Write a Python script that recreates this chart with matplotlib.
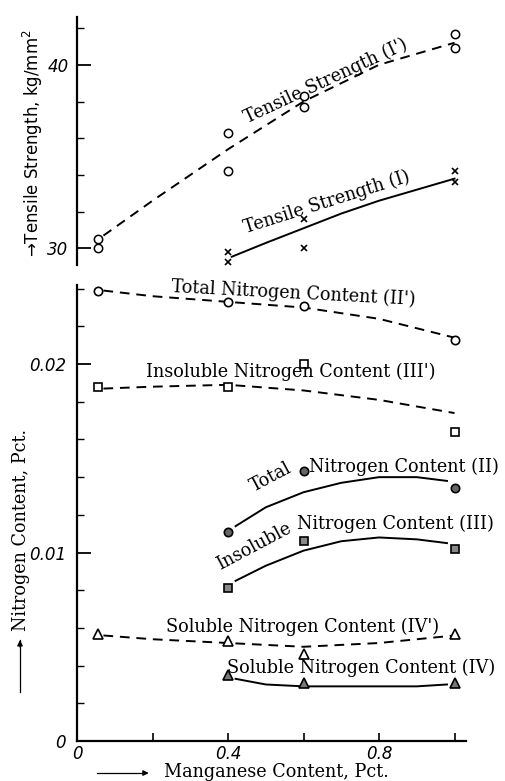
import numpy as np
import matplotlib
matplotlib.use("Agg")
import matplotlib.pyplot as plt
from matplotlib.ticker import MultipleLocator, FixedLocator, FixedFormatter

# measured points
ts_open_x = [0.055, 0.055, 0.4, 0.4, 0.6, 0.6, 1.0, 1.0]
ts_open_y = [30.0, 30.5, 34.2, 36.3, 37.7, 38.3, 40.9, 41.7]
ts_cross_x = [0.4, 0.4, 0.6, 0.6, 1.0, 1.0]
ts_cross_y = [29.25, 29.8, 30.05, 31.6, 33.6, 34.2]

# curves
ts1p_x = [0.07, 0.2, 0.4, 0.6, 0.8, 1.0]
ts1p_y = [30.7, 32.6, 35.4, 38.0, 40.0, 41.2]
ts1_x = [0.41, 0.5, 0.6, 0.7, 0.8, 0.9, 1.0]
ts1_y = [29.55, 30.3, 31.1, 31.9, 32.6, 33.2, 33.8]

n_x = [0.055, 0.4, 0.6, 1.0]
tot2p = [0.0239, 0.0233, 0.0231, 0.0213]
ins3p = [0.0188, 0.0188, 0.0200, 0.0164]
sol4p = [0.0057, 0.0053, 0.0046, 0.0057]
n2_x = [0.4, 0.6, 1.0]
tot2 = [0.0111, 0.0143, 0.01345]
ins3 = [0.0081, 0.0106, 0.0102]
sol4 = [0.0035, 0.0031, 0.0031]

c_x = [0.07, 0.2, 0.4, 0.6, 0.8, 1.0]
tot2p_c = [0.0239, 0.0236, 0.0233, 0.0230, 0.0224, 0.0214]
ins3p_c = [0.0187, 0.0188, 0.0189, 0.0186, 0.0181, 0.0174]
sol4p_c = [0.0056, 0.0054, 0.0052, 0.0050, 0.0052, 0.0056]
c2_x = [0.42, 0.5, 0.6, 0.7, 0.8, 0.9, 0.98]
tot2_c = [0.0114, 0.0124, 0.0132, 0.0137, 0.0140, 0.0140, 0.0138]
ins3_c = [0.0085, 0.0093, 0.0101, 0.0106, 0.0108, 0.0107, 0.0105]
sol4_c = [0.0033, 0.0030, 0.0029, 0.0029, 0.0029, 0.0029, 0.0030]

serif = "DejaVu Serif"
fs = 12.7
dash = (5, 3.5)

fig = plt.figure(figsize=(5.05, 7.81), dpi=100)
ax1 = fig.add_axes([0.1525, 0.6607, 0.770, 0.3175])
ax2 = fig.add_axes([0.1525, 0.0512, 0.770, 0.584])

for ax in (ax1, ax2):
    ax.set_xlim(0, 1.03)
    ax.spines['top'].set_visible(False)
    ax.spines['right'].set_visible(False)
    ax.spines['left'].set_linewidth(1.6)
    ax.spines['bottom'].set_linewidth(1.6)
    ax.patch.set_alpha(0)

# upper axes: tensile strength
ax1.set_ylim(29.1, 42.6)
ax1.spines['bottom'].set_visible(False)
ax1.set_xticks([])
ax1.yaxis.set_major_locator(FixedLocator([30, 40]))
ax1.yaxis.set_minor_locator(MultipleLocator(2))
ax1.tick_params(axis='y', which='major', direction='in', length=10, width=1.3, pad=6)
ax1.tick_params(axis='y', which='minor', direction='in', length=5, width=1.0)
for t in ax1.get_yticklabels():
    t.set_fontstyle('italic')
    t.set_fontsize(12)

ax1.plot(ts1p_x, ts1p_y, color='black', lw=1.4, dashes=dash)
ax1.plot(ts1_x, ts1_y, color='black', lw=1.4)
ax1.plot(ts_open_x, ts_open_y, 'o', ms=6, mfc='white', mec='black', mew=1.1, ls='none')
ax1.plot(ts_cross_x, ts_cross_y, 'x', ms=5, color='black', mew=1.2, ls='none')

ax1.text(0.658, 39.1, "Tensile Strength (I')", rotation=25, fontsize=fs,
         family=serif, ha='center', va='center', rotation_mode='anchor')
ax1.text(0.663, 32.5, "Tensile Strength (I)", rotation=17.5, fontsize=fs,
         family=serif, ha='center', va='center', rotation_mode='anchor')

# lower axes: nitrogen content
ax2.set_ylim(0, 0.0242)
ax2.xaxis.set_major_locator(FixedLocator([0, 0.2, 0.4, 0.6, 0.8, 1.0]))
ax2.xaxis.set_major_formatter(FixedFormatter(['0', '', '0.4', '', '0.8', '']))
ax2.yaxis.set_major_locator(FixedLocator([0, 0.01, 0.02]))
ax2.yaxis.set_major_formatter(FixedFormatter(['0', '0.01', '0.02']))
ax2.yaxis.set_minor_locator(MultipleLocator(0.002))
ax2.tick_params(axis='x', which='major', direction='in', length=6, width=1.2, pad=3)
ax2.tick_params(axis='y', which='major', direction='in', length=10, width=1.3, pad=8)
ax2.tick_params(axis='y', which='minor', direction='in', length=5, width=1.0)
for t in ax2.get_xticklabels() + ax2.get_yticklabels():
    t.set_fontstyle('italic')
    t.set_fontsize(12)

ax2.plot(c_x, tot2p_c, color='black', lw=1.4, dashes=dash)
ax2.plot(c_x, ins3p_c, color='black', lw=1.4, dashes=dash)
ax2.plot(c_x, sol4p_c, color='black', lw=1.4, dashes=dash)
ax2.plot(c2_x, tot2_c, color='black', lw=1.4)
ax2.plot(c2_x, ins3_c, color='black', lw=1.4)
ax2.plot(c2_x, sol4_c, color='black', lw=1.4)

ax2.plot(n_x, tot2p, 'o', ms=6, mfc='white', mec='black', mew=1.2, ls='none')
ax2.plot(n_x, ins3p, 's', ms=6, mfc='white', mec='black', mew=1.2, ls='none')
ax2.plot(n_x, sol4p, '^', ms=7, mfc='white', mec='black', mew=1.2, ls='none')
ax2.plot(n2_x, tot2, 'o', ms=6, mfc='#666666', mec='black', mew=1.2, ls='none')
ax2.plot(n2_x, ins3, 's', ms=6, mfc='#888888', mec='black', mew=1.2, ls='none')
ax2.plot(n2_x, sol4, '^', ms=7, mfc='#777777', mec='black', mew=1.2, ls='none')

kw = dict(fontsize=fs, family=serif, va='center')
ax2.text(0.573, 0.02378, "Total Nitrogen Content (II')", rotation=-3, ha='center', **kw)
ax2.text(0.565, 0.01957, "Insoluble Nitrogen Content (III')", ha='center', **kw)
ax2.text(0.515, 0.0140, "Total", rotation=28, ha='center', **kw)
ax2.text(0.614, 0.01457, "Nitrogen Content (II)", ha='left', **kw)
ax2.text(0.469, 0.01032, "Insoluble", rotation=28, ha='center', **kw)
ax2.text(0.584, 0.01154, "Nitrogen Content (III)", ha='left', **kw)
ax2.text(0.597, 0.00606, "Soluble Nitrogen Content (IV')", ha='center', **kw)
ax2.text(0.753, 0.00388, "Soluble Nitrogen Content (IV)", ha='center', **kw)

# axis titles
fig.text(0.065, 0.817, "\u2192Tensile Strength, kg/mm$^2$", rotation=90,
         ha='center', va='center', fontsize=12)
fig.text(0.042, 0.321, "Nitrogen Content, Pct.", rotation=90,
         ha='center', va='center', fontsize=fs, family=serif)
fig.text(0.547, 0.0115, "Manganese Content, Pct.",
         ha='center', va='center', fontsize=fs, family=serif)
fig.add_artist(plt.Line2D([0.0396, 0.0396], [0.114, 0.18], color='black', lw=0.9))
fig.add_artist(plt.Line2D([0.192, 0.29], [0.0102, 0.0102], color='black', lw=0.9))
plt.annotate('', xy=(0.0396, 0.184), xytext=(0.0396, 0.168), xycoords='figure fraction',
             arrowprops=dict(arrowstyle='-|>', color='black', lw=0.9, mutation_scale=8))
plt.annotate('', xy=(0.30, 0.0102), xytext=(0.28, 0.0102), xycoords='figure fraction',
             arrowprops=dict(arrowstyle='-|>', color='black', lw=0.9, mutation_scale=8))

fig.savefig("out.png", dpi=100)
